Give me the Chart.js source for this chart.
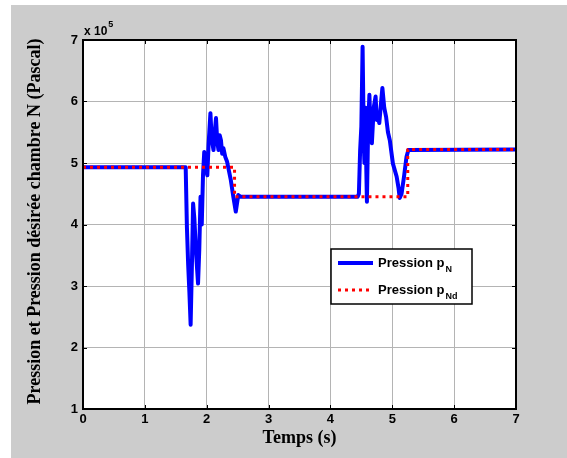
<!DOCTYPE html>
<html>
<head>
<meta charset="utf-8">
<script src="https://cdn.jsdelivr.net/npm/chart.js@4.4.1/dist/chart.umd.min.js"></script>
<style>
  html, body { margin: 0; padding: 0; background: #ffffff; }
  #wrap { width: 567px; height: 458px; }
</style>
</head>
<body>
<div id="wrap"><canvas id="graphic-pression" width="567" height="458"></canvas></div>
<script>
// temps (s) et pression p_N (x 10^5 Pa)
var tempsN = [0, 1.66, 1.68, 1.70, 1.72, 1.74, 1.76, 1.78, 1.80, 1.83,
    1.86, 1.88, 1.90, 1.92, 1.94, 1.96, 1.98, 2.01, 2.03, 2.06,
    2.08, 2.11, 2.13, 2.15, 2.17, 2.19, 2.21, 2.23, 2.25, 2.27,
    2.30, 2.33, 2.39, 2.43, 2.47, 2.51, 2.55, 4.44, 4.46, 4.48,
    4.50, 4.52, 4.54, 4.55, 4.57, 4.58, 4.59, 4.61, 4.63, 4.65,
    4.67, 4.70, 4.73, 4.75, 4.76, 4.79, 4.82, 4.84, 4.87, 4.90,
    4.93, 4.96, 5.01, 5.07, 5.10, 5.12, 5.15, 5.19, 5.23, 5.26, 7];
var pressionN = [4.93, 4.93, 3.95, 3.35, 2.9, 2.37, 3.3, 4.34, 4.1, 3.5,
    3.04, 3.6, 4.45, 4.0, 4.8, 5.18, 4.95, 4.80, 5.3, 5.81,
    5.4, 5.21, 5.5, 5.73, 5.35, 5.21, 5.45, 5.37, 5.15, 5.24,
    5.1, 5.02, 4.72, 4.45, 4.21, 4.48, 4.45, 4.45, 4.5, 5.2,
    5.6, 6.89, 5.3, 5.0, 5.9, 4.9, 4.37, 5.6, 6.11, 5.5,
    5.32, 5.9, 6.08, 5.7, 5.8, 5.65, 6.0, 6.22, 5.9, 5.75,
    5.5, 5.37, 4.99, 4.78, 4.6, 4.43, 4.5, 4.78, 5.1, 5.21, 5.22];

// pression desiree p_Nd
var tempsNd = [0, 2.45, 2.45, 5.25, 5.25, 7];
var pressionNd = [4.93, 4.93, 4.45, 4.45, 5.22, 5.22];

var xTicks = [0, 1, 2, 3, 4, 5, 6, 7];
var yTicks = [1, 2, 3, 4, 5, 6, 7];

var titleFont = 'bold 18px "Liberation Serif", "Times New Roman", serif';

function toPoints(xs, ys) {
    var pts = [];
    for (var i = 0; i < xs.length; i++) pts.push({x: xs[i], y: ys[i]});
    return pts;
}

// fond gris matlab + cadre + textes
var matlabFrame = {
    id: 'matlabFrame',
    beforeDraw: function (chart) {
        var ctx = chart.ctx, a = chart.chartArea;
        ctx.save();
        ctx.fillStyle = '#ffffff';
        ctx.fillRect(0, 0, chart.width, chart.height);
        ctx.fillStyle = '#cccccc';
        ctx.fillRect(11, 5, chart.width - 11, chart.height - 5);
        ctx.fillStyle = '#ffffff';
        ctx.fillRect(a.left, a.top, a.right - a.left, a.bottom - a.top);
        ctx.restore();
    },
    afterDraw: function (chart) {
        var ctx = chart.ctx, a = chart.chartArea;
        var xs = chart.scales.x, ys = chart.scales.y;
        ctx.save();
        // petits traits de graduation vers l'interieur
        ctx.strokeStyle = '#000000';
        ctx.lineWidth = 1;
        ctx.beginPath();
        xTicks.forEach(function (v) {
            var px = Math.round(xs.getPixelForValue(v)) + 0.5;
            ctx.moveTo(px, a.bottom); ctx.lineTo(px, a.bottom - 4);
            ctx.moveTo(px, a.top); ctx.lineTo(px, a.top + 4);
        });
        yTicks.forEach(function (v) {
            var py = Math.round(ys.getPixelForValue(v)) + 0.5;
            ctx.moveTo(a.left, py); ctx.lineTo(a.left + 4, py);
            ctx.moveTo(a.right, py); ctx.lineTo(a.right - 4, py);
        });
        ctx.stroke();
        // cadre
        ctx.lineWidth = 2;
        ctx.strokeRect(a.left, a.top, a.right - a.left, a.bottom - a.top);

        // x 10^5
        ctx.fillStyle = '#000000';
        ctx.font = 'bold 12px "Liberation Sans", Arial, sans-serif';
        ctx.textBaseline = 'alphabetic';
        ctx.textAlign = 'left';
        ctx.fillText('x 10', a.left + 1, a.top - 5);
        var w = ctx.measureText('x 10').width;
        ctx.font = 'bold 9px "Liberation Sans", Arial, sans-serif';
        ctx.fillText('5', a.left + 2 + w, a.top - 13);

        // titres des axes
        ctx.font = titleFont;
        ctx.textAlign = 'center';
        ctx.textBaseline = 'middle';
        ctx.fillText('Temps (s)', (a.left + a.right) / 2, 438);
        ctx.translate(35, (a.top + a.bottom) / 2 - 3);
        ctx.rotate(-Math.PI / 2);
        ctx.fillText('Pression et Pression désirée chambre N (Pascal)', 0, 0);
        ctx.restore();

        // legende
        ctx.save();
        var lx = 331, ly = 249, lw = 141, lh = 55;
        ctx.fillStyle = '#ffffff';
        ctx.fillRect(lx, ly, lw, lh);
        ctx.strokeStyle = '#000000';
        ctx.lineWidth = 1.5;
        ctx.strokeRect(lx, ly, lw, lh);

        ctx.lineWidth = 4;
        ctx.strokeStyle = '#0000ff';
        ctx.beginPath(); ctx.moveTo(338, 263); ctx.lineTo(373, 263); ctx.stroke();
        ctx.lineWidth = 3;
        ctx.strokeStyle = '#ff0000';
        ctx.setLineDash([3, 4]);
        ctx.beginPath(); ctx.moveTo(338, 290); ctx.lineTo(373, 290); ctx.stroke();
        ctx.setLineDash([]);

        ctx.fillStyle = '#000000';
        ctx.textAlign = 'left';
        ctx.textBaseline = 'alphabetic';
        var entries = [['Pression p', 'N', 267], ['Pression p', 'Nd', 294]];
        entries.forEach(function (e) {
            ctx.font = 'bold 13px "Liberation Sans", Arial, sans-serif';
            ctx.fillText(e[0], 378, e[2]);
            var tw = ctx.measureText(e[0]).width;
            ctx.font = 'bold 9px "Liberation Sans", Arial, sans-serif';
            ctx.fillText(e[1], 378 + tw + 1, e[2] + 5);
        });
        ctx.restore();
    }
};

function createGraphic(content) {
    var ctx = document.getElementById(content);
    return new Chart(ctx, {
        type: 'line',
        data: {
            datasets: [
                getData('Pression pNd', toPoints(tempsNd, pressionNd), '#ff0000', 3, [3, 4], 0),
                getData('Pression pN', toPoints(tempsN, pressionN), '#0000ff', 4, [], 1)
            ]
        },
        options: {
            responsive: false,
            animation: false,
            events: [],
            layout: { padding: { left: 0, top: 40, right: 51, bottom: 0 } },
            plugins: { legend: { display: false }, tooltip: { enabled: false } },
            scales: {
                x: {
                    type: 'linear',
                    min: 0, max: 7,
                    afterFit: function (s) { s.height = 49; },
                    afterBuildTicks: function (s) { s.ticks = xTicks.map(function (v) { return {value: v}; }); },
                    grid: { color: '#b4b4b4', lineWidth: 1, drawTicks: false },
                    border: { display: false },
                    ticks: { font: { family: '"Liberation Sans", Arial, sans-serif', size: 13, weight: 'bold' }, color: '#000000', padding: 3, maxRotation: 0 }
                },
                y: {
                    type: 'linear',
                    min: 1, max: 7,
                    afterFit: function (s) { s.width = 83; },
                    afterBuildTicks: function (s) { s.ticks = yTicks.map(function (v) { return {value: v}; }); },
                    grid: { color: '#b4b4b4', lineWidth: 1, drawTicks: false },
                    border: { display: false },
                    ticks: { font: { family: '"Liberation Sans", Arial, sans-serif', size: 13, weight: 'bold' }, color: '#000000', padding: 5 }
                }
            }
        },
        plugins: [matlabFrame]
    });
}

function getData(title, points, colour, width, dash, order) {
    return {
        label: title,
        data: points,
        order: order,
        borderColor: colour,
        backgroundColor: 'transparent',
        borderWidth: width,
        borderDash: dash,
        borderCapStyle: 'butt',
        borderJoinStyle: 'round',
        tension: 0,
        fill: false,
        pointRadius: 0,
        pointHoverRadius: 0
    };
}

createGraphic('graphic-pression');
</script>
</body>
</html>
